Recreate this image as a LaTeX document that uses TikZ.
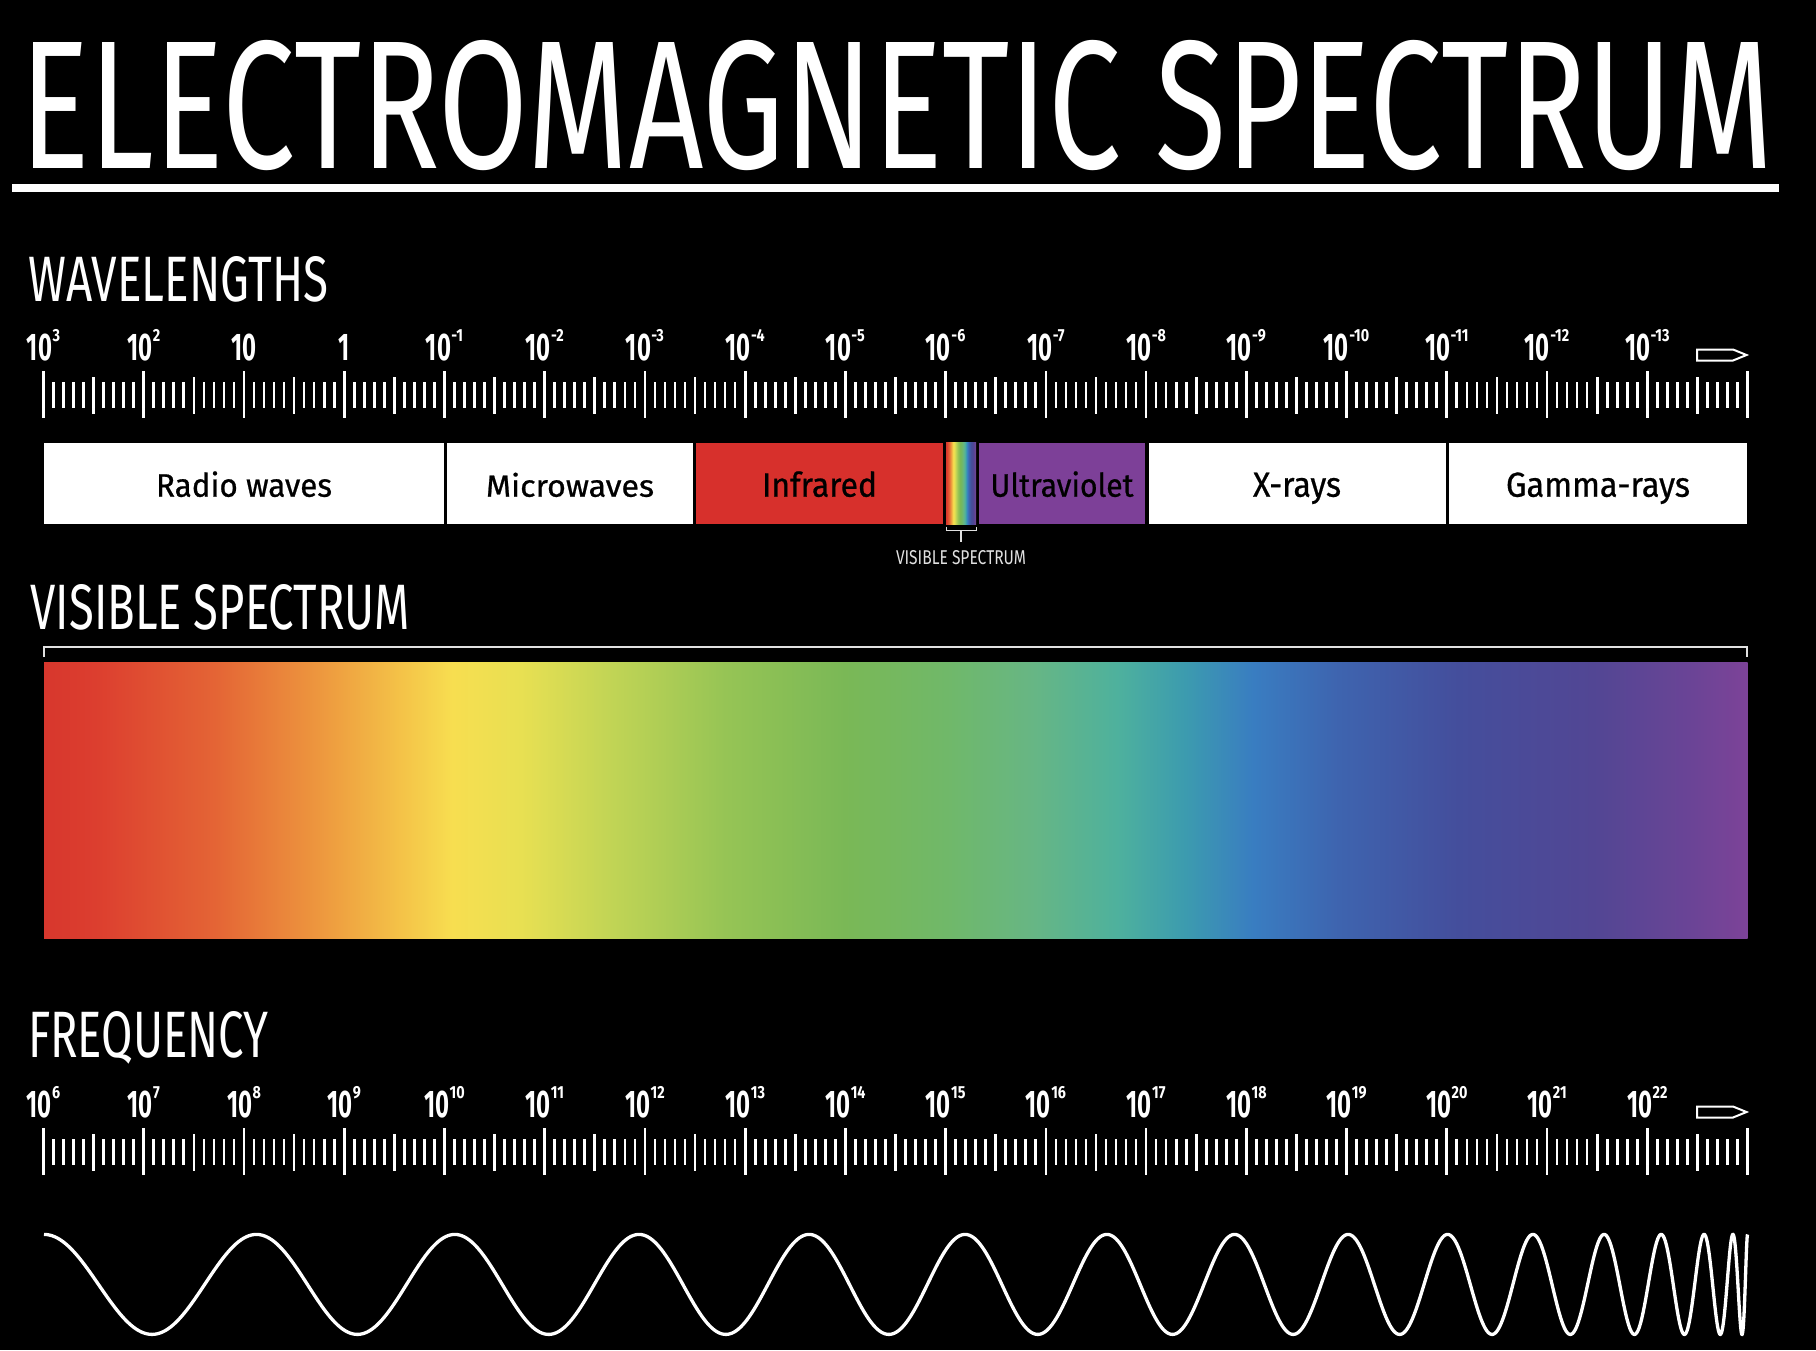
\documentclass[tikz,border=0pt]{standalone}
\usepackage{fontspec}
\usepackage{graphicx}
\setmainfont{Fira Sans}
\newfontfamily\cnd[FakeStretch=0.62]{Fira Sans}
\newfontfamily\cndsup[FakeStretch=0.82]{Fira Sans}
\newfontfamily\boxfont[FakeBold=0.7]{Fira Sans}
\definecolor{irred}{RGB}{215,48,44}
\definecolor{uvpurple}{RGB}{125,64,152}
\definecolor{lgray}{RGB}{225,225,225}
\pgfdeclarehorizontalshading{emspec}{100bp}{%
rgb(0bp)=(0.843,0.216,0.176);
rgb(25bp)=(0.843,0.216,0.176);
rgb(26.5bp)=(0.863,0.243,0.184);
rgb(30bp)=(0.894,0.392,0.208);
rgb(33bp)=(0.929,0.588,0.243);
rgb(35.5bp)=(0.957,0.765,0.282);
rgb(37bp)=(0.969,0.871,0.314);
rgb(39bp)=(0.910,0.878,0.322);
rgb(41.5bp)=(0.765,0.835,0.333);
rgb(45bp)=(0.588,0.769,0.333);
rgb(48.5bp)=(0.478,0.722,0.337);
rgb(51.5bp)=(0.439,0.722,0.412);
rgb(54bp)=(0.404,0.714,0.518);
rgb(56.5bp)=(0.306,0.694,0.616);
rgb(58.5bp)=(0.235,0.608,0.686);
rgb(60.5bp)=(0.224,0.490,0.757);
rgb(63bp)=(0.243,0.392,0.686);
rgb(66.5bp)=(0.267,0.306,0.612);
rgb(70.5bp)=(0.322,0.275,0.580);
rgb(73.5bp)=(0.424,0.267,0.588);
rgb(75bp)=(0.490,0.263,0.596);
rgb(100bp)=(0.490,0.263,0.596)}
\newcommand\expo[1]{\kern0.5pt\raisebox{19pt}{\cndsup\bfseries\fontsize{17.5}{18}\selectfont#1}}
\tikzset{
  head/.style={anchor=base west, inner sep=0pt, text=white},
  boxlbl/.style={anchor=base, inner sep=0pt, text=black, font=\boxfont},
  scalelbl/.style={anchor=base, inner sep=0pt, text=white,
    font={\cnd\bfseries\fontsize{38.5}{39}\selectfont}},
  tickline/.style={draw=white, line width=2.7pt},
  pointer/.style={draw=white, line width=2pt, line join=miter},
  bracketline/.style={draw=lgray, line width=2pt},
}
\begin{document}
\begin{tikzpicture}[x=1pt,y=-1pt]
\fill[black] (0,0) rectangle (1816,1350);
\useasboundingbox (0,0) rectangle (1816,1350);

% title
\node[head] (title) at (20,168) {\resizebox{1752pt}{128pt}{ELECTROMAGNETIC SPECTRUM}};
\fill[white] (12,184) rectangle (1779,192);

% headings
\node[head] (hwave) at (28,301.7) {\resizebox{300pt}{45pt}{WAVELENGTHS}};
\node[head] (hvis) at (30.5,629) {\resizebox{379pt}{45pt}{VISIBLE SPECTRUM}};
\node[head] (hfreq) at (28,1057) {\resizebox{240pt}{46pt}{FREQUENCY}};

% scales: ticks
\foreach \j in {0,...,170}{
  \pgfmathtruncatemacro\m{mod(\j,10)}
  \pgfmathsetmacro\xx{43.5+\j*10.0235}
  \ifnum\m=0 \def\ya{371}\def\yb{418}\else\ifnum\m=5 \def\ya{377}\def\yb{414}\else\def\ya{382}\def\yb{408}\fi\fi
  \draw[tickline] (\xx,\ya) -- (\xx,\yb);
  \draw[tickline] (\xx,\ya+757) -- (\xx,\yb+757);
}

% wavelength labels
\foreach \s [count=\i from 0] in {{10\expo{3}},{10\expo{2}},{10},{1}}{
  \node[scalelbl] (w\i) at ({43.5+\i*100.235},360) {\s};
}
\foreach \e [count=\i from 4] in {-1,-2,...,-13}{
  \node[scalelbl] (w\i) at ({43.5+\i*100.235},360) {10\expo{\e}};
}
% frequency labels
\foreach \e [count=\i from 0] in {6,...,22}{
  \node[scalelbl] (f\i) at ({43.5+\i*100.235},1117) {10\expo{\e}};
}

% pointers
\draw[pointer] (1697,349.5) -- (1733,349.5) -- (1746.5,355) -- (1733,360.5) -- (1697,360.5) -- cycle;
\draw[pointer] (1697,1106.5) -- (1733,1106.5) -- (1746.5,1112) -- (1733,1117.5) -- (1697,1117.5) -- cycle;

% band of regions
\fill[white] (44,442.7) rectangle (443.5,524.3);
\fill[white] (447,442.7) rectangle (692.7,524.3);
\fill[irred] (696,442.7) rectangle (942.7,524.3);
\shade[shading=emspec] (946,442.7) rectangle (976,524.3);
\coordinate (visstrip) at (961,530.5);
\fill[uvpurple] (979,442.7) rectangle (1145,524.3);
\fill[white] (1148.5,442.7) rectangle (1445.5,524.3);
\fill[white] (1449,442.7) rectangle (1746.7,524.3);

\node[boxlbl] (lradio) at (244,496.7) {\resizebox{176pt}{25.4pt}{Radio waves}};
\node[boxlbl] (lmicro) at (570,496.7) {\resizebox{168pt}{24pt}{Microwaves}};
\node[boxlbl] (lir) at (819.5,496.7) {\resizebox{115pt}{25.4pt}{Infrared}};
\node[boxlbl] (luv) at (1062,496.7) {\resizebox{143pt}{25.4pt}{Ultraviolet}};
\node[boxlbl] (lx) at (1297,496.7) {\resizebox{88pt}{24pt}{X-rays}};
\node[boxlbl] (lg) at (1598,496.7) {\resizebox{184pt}{24.3pt}{Gamma-rays}};

% small bracket
\draw[draw=lgray, line width=1.6pt] (946.5,526.5) -- (946.5,530.5) -- (976.5,530.5) -- (976.5,526.5);
\node[anchor=base, inner sep=0pt, text=lgray] (lvis) at (961,564) {\resizebox{130pt}{14pt}{VISIBLE SPECTRUM}};
\draw[draw=lgray, line width=1.6pt] (visstrip) -- (lvis.north |- 0,541.5);

% visible spectrum bar
\draw[bracketline] (44,657) -- (44,646.5) -- (1747,646.5) -- (1747,657);
\shade[shading=emspec] (44,662) rectangle (1747.5,938);

% wave
\draw[white, line width=3.3pt] plot[domain=0:30, samples=1200, variable=\s]
  ({44 + 109.766*\s - 1.766*\s*\s}, {1284.4 - 50*cos(180*\s)});
\end{tikzpicture}
\end{document}
